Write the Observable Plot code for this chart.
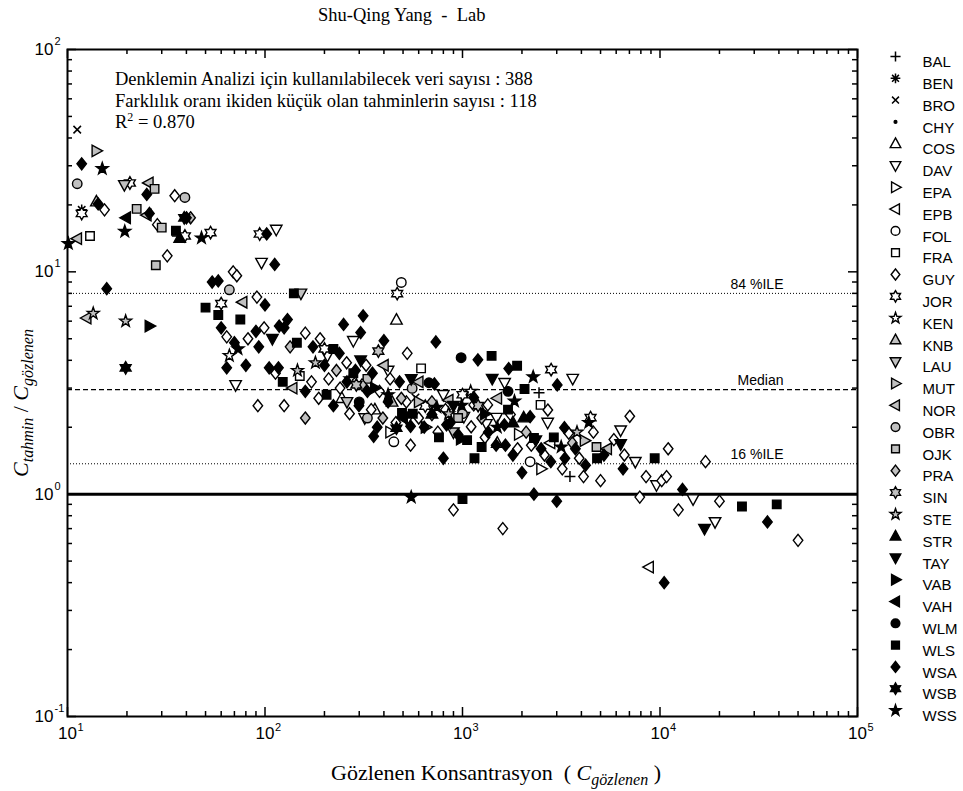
<!DOCTYPE html>
<html><head><meta charset="utf-8">
<script src="https://cdn.jsdelivr.net/npm/d3@7"></script>
<script src="https://cdn.jsdelivr.net/npm/@observablehq/plot@0.6"></script>
<style>
body{margin:0;background:#fff;}
#chart{width:963px;height:791px;}
</style></head><body><div id="chart"></div>
<script>
// ---------- data ----------
const seriesNames = ["BAL","BEN","BRO","CHY","COS","DAV","EPA","EPB","FOL","FRA","GUY","JOR","KEN","KNB","LAU","MUT","NOR","OBR","OJK","PRA","SIN","STE","STR","TAY","VAB","VAH","WLM","WLS","WSA","WSB","WSS"];
const seriesShapes = ["plus","asterisk","cross","dot","triUp","triDown","triRight","triLeft","circle","square","diamond","hexagram","star","triUp","triDown","triRight","triLeft","circle","square","diamond","hexagram","star","triUp","triDown","triRight","triLeft","circle","square","diamond","hexagram","star"];
const seriesFills = ["none","black","none","black","white","white","white","white","white","white","white","white","white","#c0c0c0","#c0c0c0","#c0c0c0","#c0c0c0","#c0c0c0","#c0c0c0","#c0c0c0","#c0c0c0","#c0c0c0","black","black","black","black","black","black","black","black","black"];

const BAL = [[2440,2.86],[36,14.5],[3500,1.2]];
const BEN = [[11.8,19.0]];
const BRO = [[11.2,43.6],[578,2.72]];
const CHY = [];
const COS = [[463,6.08],[245,2.7],[360,2.4],[1500,1.7]];
const DAV = [[114,15.5],[1634,3.17],[3614,3.31],[6320,1.94],[1487,2.21],[1320,2.07],[1016,2.23],[525,2.16],[96,11],[71,3.1],[207,4.2],[280,4.9],[320,2.2],[420,3.6],[800,2.8],[2700,2.1],[7500,1.4],[14700,0.95],[19000,0.75],[9600,1.1]];
const EPA = [[1928,1.86],[430,1.9],[650,2.0],[2500,1.3]];
const EPB = [[2790,1.70],[8800,0.47]];
const FOL = [[490,8.96],[449,1.72],[2200,1.4]];
const FRA = [[13,14.5],[617,3.68],[2485,2.52],[150,3.4]];
const GUY = [[34.9,22],[15.4,19],[28.5,16.3],[32,11.8],[525,4.3],[1343,2.52],[2704,2.39],[7030,2.24],[5840,1.76],[3450,1.88],[1750,2.28],[1106,2.01],[1140,2.52],[700,2.28],[546,1.66],[2230,1.66],[69,10],[72,9.6],[91,7.7],[64,5.1],[82,5.0],[99,5.6],[160,5.3],[190,5.0],[259,3.9],[325,3.8],[113,3.5],[172,3.2],[187,2.7],[268,2.3],[345,2.4],[460,2.1],[125,2.5],[92,2.5],[430,3.3],[210,3.3],[240,3.0],[380,2.9],[520,2.6],[600,2.2],[750,1.9],[820,2.4],[1300,1.8],[1900,1.6],[2600,1.5],[3900,1.45],[4600,1.9],[6600,1.5],[8500,1.2],[3200,1.3],[4100,1.2],[5000,1.15],[900,0.85],[1600,0.7],[7900,0.97],[10200,1.15],[10800,1.2],[11000,1.6],[12400,0.85],[20000,0.93],[50000,0.62],[17000,1.4]];
const JOR = [[20.7,25.1],[11.8,18.3],[39.3,14.5],[53,15],[94,14.8],[467,7.98],[2810,3.63],[648,2.49],[4450,2.21],[60,7.2],[200,4.5],[1000,2.8]];
const KEN = [[66,4.2],[270,3.3],[1100,2.9]];
const KNB = [[14,20.7],[440,2.6]];
const LAU = [[19.4,24.6],[152,8.0],[260,2.6],[900,1.9]];
const MUT = [[14,35],[4150,1.74],[600,2.6]];
const NOR = [[25.8,25.1],[25.2,18],[11.2,14.1],[851,2.65],[12.5,6.2],[77,7.3],[400,3.8],[138,3.0],[600,3.2],[1500,2.7],[5400,1.6]];
const OBR = [[11.2,24.9],[39.3,21.6],[556,2.99],[66,8.3],[330,2.2],[1000,2.3]];
const OJK = [[27.6,23.6],[22.4,19.2],[30,15.8],[4770,1.63],[28,10.7],[330,3.3],[950,2.2]];
const PRA = [[42,17.5],[134,4.6],[395,2.2],[160,2.2],[230,3.6],[310,3.1],[490,2.7],[700,2.6],[1250,2.2],[2100,1.9],[3600,1.7]];
const SIN = [[375,4.4],[290,3.1],[1200,2.5]];
const STE = [[19.7,6.0],[13.5,6.5],[146,3.6],[180,3.9],[850,2.3],[3800,1.9]];
const STR = [[2040,2.21],[37,14.2],[700,2.3],[1800,2.1]];
const TAY = [[1414,3.31],[6320,1.68],[2350,1.75],[16800,0.7],[109,5.0],[305,4.0],[550,3.3],[900,2.5]];
const VAB = [[980,1.77],[26,5.7],[360,3.0],[1300,2.3]];
const VAH = [[19.8,17.5],[500,2.2]];
const WLM = [[984,4.11],[676,3.17],[300,2.6],[1700,2.9]];
const WLS = [[35.4,15.3],[1404,4.19],[1890,3.78],[2061,2.97],[494,2.32],[1055,1.75],[1250,1.63],[2300,1.79],[140,8.0],[50,6.9],[58,6.4],[75,6.1],[145,4.8],[222,4.5],[123,3.2],[205,2.8],[280,3.5],[560,2.3],[760,1.8],[1150,1.45],[1700,2.4],[2900,1.8],[4800,1.45],[1000,0.95],[9400,1.45],[26000,0.88],[39000,0.9]];
const WSA = [[11.8,30.6],[25.2,22.3],[14.3,20.2],[26,18.3],[40,17.5],[102,14.8],[305,5.33],[314,6.34],[733,4.84],[1197,4.02],[1714,3.67],[3018,3.1],[721,3.13],[1140,2.72],[2200,2.23],[1630,2.05],[830,2.05],[870,2.1],[546,2.02],[355,1.82],[1480,1.66],[1650,1.66],[3730,1.60],[3282,1.99],[15.8,8.4],[54,9],[58,9.1],[60,5.6],[70,4.8],[80,3.8],[64,3.7],[90,5.4],[100,7.1],[125,5.6],[175,4.6],[238,4.3],[287,3.6],[350,3.5],[105,3.7],[160,2.9],[222,2.5],[299,2.5],[370,2.0],[112,10.8],[118,5.7],[130,6.1],[93,4.6],[117,3.7],[200,3.8],[260,3.2],[330,2.9],[420,2.6],[480,3.2],[640,2.0],[950,1.85],[1350,1.9],[1800,1.5],[2500,1.6],[3300,1.45],[4200,1.35],[5200,1.5],[6500,1.3],[250,5.8],[400,4.9],[800,1.45],[2000,1.25],[2800,1.4],[2300,1.0],[3000,0.93],[10500,0.4],[13000,1.05],[35000,0.75]];
const WSB = [[463,1.98],[19.7,3.7],[39,17.5]];
const WSS = [[15,29.1],[19.5,15.2],[47.7,14.2],[10.1,13.4],[2280,3.37],[1833,2.62],[4360,2.1],[990,2.51],[742,2.46],[3160,1.63],[73,4.5],[420,2.8],[1500,2.0],[550,0.97]];

const seriesData = [BAL,BEN,BRO,CHY,COS,DAV,EPA,EPB,FOL,FRA,GUY,JOR,KEN,KNB,LAU,MUT,NOR,OBR,OJK,PRA,SIN,STE,STR,TAY,VAB,VAH,WLM,WLS,WSA,WSB,WSS];

const refLines = {p84: 8.0, median: 2.95, p16: 1.37, unity: 1};
const xMajor = [10,100,1000,10000,100000];
const yMajor = [0.1,1,10,100];
const xMinor = [10,100,1000,10000].flatMap(d => [2,3,4,5,6,7,8,9].map(k => k*d));
const yMinor = [0.1,1,10].flatMap(d => [2,3,4,5,6,7,8,9].map(k => k*d));

// ---------- symbols ----------
function polySym(pts){return {draw(ctx,size){const r=Math.sqrt(size/Math.PI);ctx.moveTo(pts[0][0]*r,pts[0][1]*r);for(let i=1;i<pts.length;i++)ctx.lineTo(pts[i][0]*r,pts[i][1]*r);ctx.closePath();}};}
function starPts(n,inner){const p=[];for(let i=0;i<2*n;i++){const a=-Math.PI/2+i*Math.PI/n;const rr=i%2?inner:1.25;p.push([rr*Math.cos(a),rr*Math.sin(a)]);}return p;}
const symbols = {
  triUp: polySym([[0,-1.25],[1.15,0.85],[-1.15,0.85]]),
  triDown: polySym([[0,1.25],[1.15,-0.85],[-1.15,-0.85]]),
  triRight: polySym([[1.25,0],[-0.85,-1.15],[-0.85,1.15]]),
  triLeft: polySym([[-1.25,0],[0.85,-1.15],[0.85,1.15]]),
  diamond: polySym([[0,-1.2],[0.95,0],[0,1.2],[-0.95,0]]),
  square: polySym([[-0.85,-0.85],[0.85,-0.85],[0.85,0.85],[-0.85,0.85]]),
  hexagram: polySym(starPts(6,0.72)),
  star: polySym(starPts(5,0.5)),
  circle: {draw(ctx,size){const r=Math.sqrt(size/Math.PI)*0.95;ctx.moveTo(r,0);ctx.arc(0,0,r,0,2*Math.PI);}},
  dot: {draw(ctx,size){const r=Math.sqrt(size/Math.PI)*0.3;ctx.moveTo(r,0);ctx.arc(0,0,r,0,2*Math.PI);}},
  plus: {draw(ctx,size){const r=Math.sqrt(size/Math.PI)*1.1;ctx.moveTo(-r,0);ctx.lineTo(r,0);ctx.moveTo(0,-r);ctx.lineTo(0,r);}},
  cross: {draw(ctx,size){const r=Math.sqrt(size/Math.PI)*0.75;ctx.moveTo(-r,-r);ctx.lineTo(r,r);ctx.moveTo(-r,r);ctx.lineTo(r,-r);}},
  asterisk: {draw(ctx,size){const r=Math.sqrt(size/Math.PI)*1.05;for(let i=0;i<4;i++){const a=i*Math.PI/4;ctx.moveTo(-r*Math.cos(a),-r*Math.sin(a));ctx.lineTo(r*Math.cos(a),r*Math.sin(a));}}}
};

// ---------- marks ----------
const W = 963, H = 791, mL = 67, mR = 106, mT = 49, mB = 75;
const innerW = W - mL - mR, innerH = H - mT - mB;
const serif = "'Liberation Serif','Times New Roman',serif";
const sans = "'Liberation Sans',Arial,sans-serif";

const marks = [];
marks.push(Plot.ruleY([refLines.p84], {y: d => d, stroke: "black", strokeWidth: 1, strokeDasharray: "1,2"}));
marks.push(Plot.ruleY([refLines.median], {y: d => d, stroke: "black", strokeWidth: 1.3, strokeDasharray: "5,3"}));
marks.push(Plot.ruleY([refLines.p16], {y: d => d, stroke: "black", strokeWidth: 1, strokeDasharray: "1,2"}));
marks.push(Plot.ruleY([refLines.unity], {y: d => d, stroke: "black", strokeWidth: 3}));
const refLabels = [{v: refLines.p84, t: "84 %ILE"}, {v: refLines.median, t: "Median"}, {v: refLines.p16, t: "16 %ILE"}];
marks.push(Plot.text(refLabels, {y: "v", text: "t", frameAnchor: "right", dx: -74, dy: -9, textAnchor: "end", fontSize: 14, fill: "black"}));

seriesData.forEach((data, i) => {
  const shape = seriesShapes[i];
  const isLine = shape === "plus" || shape === "cross" || shape === "asterisk";
  marks.push(Plot.dot(data, {x: d => d[0], y: d => d[1], symbol: symbols[shape], r: 5,
    fill: isLine ? "none" : seriesFills[i], stroke: "black", strokeWidth: isLine ? 1.5 : 1.4}));
});

marks.push(Plot.frame({stroke: "black", strokeWidth: 2}));
marks.push(Plot.tickX(xMajor, {x: d => d, insetTop: innerH - 9, strokeWidth: 1.5}));
marks.push(Plot.tickX(xMajor, {x: d => d, insetBottom: innerH - 9, strokeWidth: 1.5}));
marks.push(Plot.tickX(xMinor, {x: d => d, insetTop: innerH - 5, strokeWidth: 1.5}));
marks.push(Plot.tickX(xMinor, {x: d => d, insetBottom: innerH - 5, strokeWidth: 1.5}));
marks.push(Plot.tickY(yMajor, {y: d => d, insetRight: innerW - 9, strokeWidth: 1.5}));
marks.push(Plot.tickY(yMajor, {y: d => d, insetLeft: innerW - 9, strokeWidth: 1.5}));
marks.push(Plot.tickY(yMinor, {y: d => d, insetRight: innerW - 5, strokeWidth: 1.5}));
marks.push(Plot.tickY(yMinor, {y: d => d, insetLeft: innerW - 5, strokeWidth: 1.5}));

marks.push(Plot.text(xMajor, {x: d => d, text: () => "10", frameAnchor: "bottom", dy: 22, fontSize: 17, fill: "black"}));
marks.push(Plot.text(xMajor, {x: d => d, text: d => String(Math.round(Math.log10(d))), frameAnchor: "bottom", dy: 14, dx: 10, textAnchor: "start", fontSize: 11, fill: "black"}));
marks.push(Plot.text(yMajor, {y: d => d, text: () => "10", frameAnchor: "left", dx: -14, textAnchor: "end", fontSize: 17, fill: "black"}));
marks.push(Plot.text(yMajor, {y: d => d, text: d => String(Math.round(Math.log10(d))), frameAnchor: "left", dx: -13, dy: -8, textAnchor: "start", fontSize: 11, fill: "black"}));

const legendStep = 21.8, legendTop = 56;
seriesNames.forEach((name, i) => {
  const shape = seriesShapes[i];
  const isLine = shape === "plus" || shape === "cross" || shape === "asterisk";
  marks.push(Plot.dot([name], {frameAnchor: "top-right", dx: 38, dy: legendTop - mT + i * legendStep, symbol: symbols[shape], r: 4.6,
    fill: isLine ? "none" : seriesFills[i], stroke: "black", strokeWidth: isLine ? 1.5 : 1.4}));
  marks.push(Plot.text([name], {frameAnchor: "top-right", dx: 65, dy: legendTop - mT + i * legendStep, text: d => d, textAnchor: "start", fontSize: 15, fill: "black"}));
});

const chart = Plot.plot({
  width: W, height: H,
  marginLeft: mL, marginRight: mR, marginTop: mT, marginBottom: mB,
  x: {type: "log", domain: [10, 100000], axis: null},
  y: {type: "log", domain: [0.1, 100], axis: null},
  style: {background: "white", fontFamily: sans, overflow: "visible"},
  marks
});
document.getElementById("chart").appendChild(chart);

// ---------- titles (text) ----------
const svg = d3.select(chart);
svg.append("text").attr("x", 318).attr("y", 21).attr("text-anchor", "start").attr("font-family", serif).attr("font-size", 18.5)
  .style("white-space", "pre").attr("fill", "black").text("Shu-Qing Yang  -  Lab");
const notes = ["Denklemin Analizi için kullanılabilecek veri sayısı : 388", "Farklılık oranı ikiden küçük olan tahminlerin sayısı : 118"];
notes.forEach((t, i) => svg.append("text").attr("x", 115).attr("y", 85 + i * 21.5).attr("text-anchor", "start").attr("font-family", serif).attr("font-size", 18.5).attr("fill", "black").text(t));
const r2 = svg.append("text").attr("x", 115).attr("y", 128).attr("text-anchor", "start").attr("font-family", serif).attr("font-size", 18.5).attr("fill", "black");
r2.append("tspan").text("R");
r2.append("tspan").attr("font-size", 12).attr("dy", -7).text("2");
r2.append("tspan").attr("dy", 7).text(" = 0.870");

const xt = svg.append("text").attr("x", 331).attr("y", 780).attr("text-anchor", "start").attr("font-family", serif).attr("font-size", 22).attr("fill", "black").style("white-space", "pre");
xt.append("tspan").text("Gözlenen Konsantrasyon  ( ");
xt.append("tspan").attr("font-style", "italic").text("C");
xt.append("tspan").attr("font-style", "italic").attr("font-size", 16).attr("dy", 5).text("gözlenen");
xt.append("tspan").attr("dy", -5).text(" )");

const yt = svg.append("text").attr("transform", "translate(28,403) rotate(-90)").attr("text-anchor", "middle")
  .attr("font-family", serif).attr("font-size", 22).attr("fill", "black").attr("font-style", "italic").style("white-space", "pre");
yt.append("tspan").text("C");
yt.append("tspan").attr("font-size", 16).attr("dy", 5).text("tahmin");
yt.append("tspan").attr("dy", -5).attr("font-style", "normal").text(" / ");
yt.append("tspan").text("C");
yt.append("tspan").attr("font-size", 16).attr("dy", 5).text("gözlenen");
</script></body></html>
